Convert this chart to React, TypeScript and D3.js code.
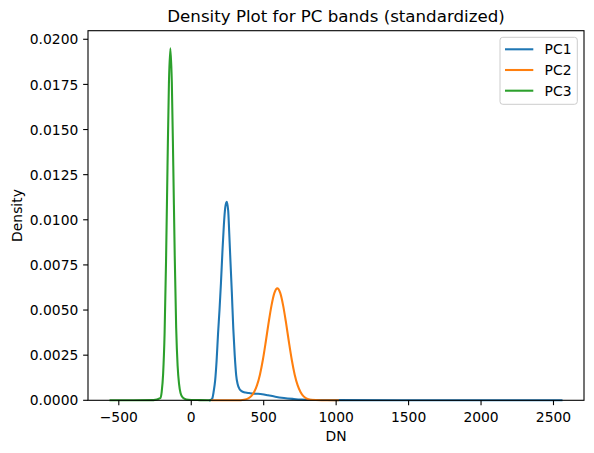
import React from "react";
import * as d3 from "d3";

const seriesNames = ["PC1", "PC2", "PC3"];
const seriesColors = ["#1f77b4", "#ff7f0e", "#2ca02c"];

const pc1: [number, number][] = [
  [130, 0], [145, 0.0001], [155, 0.0005], [165, 0.0011], [175, 0.0022], [185, 0.0037],
  [195, 0.005], [205, 0.0065], [215, 0.0082], [225, 0.0097], [235, 0.0107], [245, 0.011],
  [255, 0.0105], [262, 0.0093], [270, 0.0078], [280, 0.006], [290, 0.004], [300, 0.0025],
  [310, 0.0014], [320, 0.0009], [335, 0.0006], [350, 0.0005], [375, 0.00043], [400, 0.0004],
  [430, 0.00037], [460, 0.00036], [490, 0.00034], [530, 0.00028], [580, 0.0002], [640, 0.00013],
  [700, 0.00008], [760, 0.00004], [850, 0.00002], [1000, 0.00001], [1500, 0], [2555, 0],
];

const pc2: [number, number][] = [
  [145, 0], [320, 0], [364, 0.00003], [394, 0.000105], [414, 0.00023], [434, 0.00046],
  [454, 0.00084], [474, 0.00142], [494, 0.00223], [514, 0.00323], [534, 0.0043], [554, 0.00526],
  [574, 0.00595], [594, 0.0062], [614, 0.00595], [634, 0.00526], [654, 0.0043], [674, 0.00323],
  [694, 0.00223], [714, 0.00142], [734, 0.00084], [754, 0.00046], [774, 0.00023], [794, 0.000105],
  [824, 0.00003], [900, 0.000005], [1012, 0],
];

const pc3: [number, number][] = [
  [-557, 0], [-400, 0], [-260, 0.00001], [-214, 0.00012], [-204, 0.00047], [-194, 0.00148],
  [-184, 0.0037], [-174, 0.0077], [-164, 0.0129], [-154, 0.0176], [-144, 0.0195], [-134, 0.0176],
  [-124, 0.013], [-114, 0.008], [-104, 0.004], [-94, 0.0019], [-84, 0.0009], [-74, 0.0004],
  [-59, 0.00015], [-34, 0.00005], [0, 0.00002], [60, 0.00001], [130, 0],
];

const xTicks = [-500, 0, 500, 1000, 1500, 2000, 2500];
const yTicks = [0, 0.0025, 0.005, 0.0075, 0.01, 0.0125, 0.015, 0.0175, 0.02];

const W = 594;
const H = 453;
const left = 88;
const right = 584;
const top = 30.7;
const bottom = 400.3;
const FONT = "'DejaVu Sans', sans-serif";

export default function App() {
  const allSeries = [pc1, pc2, pc3];
  const allX = allSeries.flat().map((d) => d[0]);
  const allY = allSeries.flat().map((d) => d[1]);
  const xmin = d3.min(allX)!;
  const xmax = d3.max(allX)!;
  const ymax = d3.max(allY)!;
  const xpad = (xmax - xmin) * 0.05;
  const x = d3.scaleLinear().domain([xmin - xpad, xmax + xpad]).range([left, right]);
  const y = d3.scaleLinear().domain([0, ymax * 1.05]).range([bottom, top]);
  const line = d3
    .line<[number, number]>()
    .x((d) => x(d[0]))
    .y((d) => y(d[1]))
    .curve(d3.curveMonotoneX);

  const fmtX = (v: number) => (v < 0 ? "\u2212" + Math.abs(v) : String(v));
  const tickLen = 4.86;

  const legX = 500;
  const legY = 37.3;
  const legW = 77.3;
  const legH = 67;
  const rowH = 20.7;

  return (
    <svg
      width={W}
      height={H}
      style={{ position: "absolute", left: 0, top: 0, background: "#fff" }}
      fontFamily={FONT}
    >
      <rect x={0} y={0} width={W} height={H} fill="#fff" />
      {allSeries.map((s, i) => (
        <path key={i} d={line(s) || ""} fill="none" stroke={seriesColors[i]} strokeWidth={2.08} strokeLinejoin="round" strokeLinecap="square" />
      ))}
      <rect x={left} y={top} width={right - left} height={bottom - top} fill="none" stroke="#000" strokeWidth={1.1} />
      {xTicks.map((t) => (
        <g key={"x" + t}>
          <line x1={x(t)} x2={x(t)} y1={bottom} y2={bottom + tickLen} stroke="#000" strokeWidth={1.1} />
          <text x={x(t)} y={421.7} fontSize={13.89} textAnchor="middle" fill="#000">
            {fmtX(t)}
          </text>
        </g>
      ))}
      {yTicks.map((t) => (
        <g key={"y" + t}>
          <line x1={left - tickLen} x2={left} y1={y(t)} y2={y(t)} stroke="#000" strokeWidth={1.1} />
          <text x={78.3} y={y(t) + 5.1} fontSize={13.89} textAnchor="end" fill="#000">
            {t.toFixed(4)}
          </text>
        </g>
      ))}
      <text x={(left + right) / 2} y={22.4} fontSize={16.67} textAnchor="middle" fill="#000">
        Density Plot for PC bands (standardized)
      </text>
      <text x={(left + right) / 2} y={440.7} fontSize={13.89} textAnchor="middle" fill="#000">
        DN
      </text>
      <text
        transform={`translate(21.5, ${(top + bottom) / 2}) rotate(-90)`}
        fontSize={13.89}
        textAnchor="middle"
        fill="#000"
      >
        Density
      </text>
      <rect x={legX} y={legY} width={legW} height={legH} rx={2.8} ry={2.8} fill="#fff" fillOpacity={0.8} stroke="#cccccc" strokeWidth={1} />
      {seriesNames.map((n, i) => {
        const cy = legY + 12 + i * rowH;
        return (
          <g key={n}>
            <line x1={505} x2={533.3} y1={cy} y2={cy} stroke={seriesColors[i]} strokeWidth={2.08} />
            <text x={544.6} y={cy + 5.1} fontSize={13.89} fill="#000">
              {n}
            </text>
          </g>
        );
      })}
    </svg>
  );
}
